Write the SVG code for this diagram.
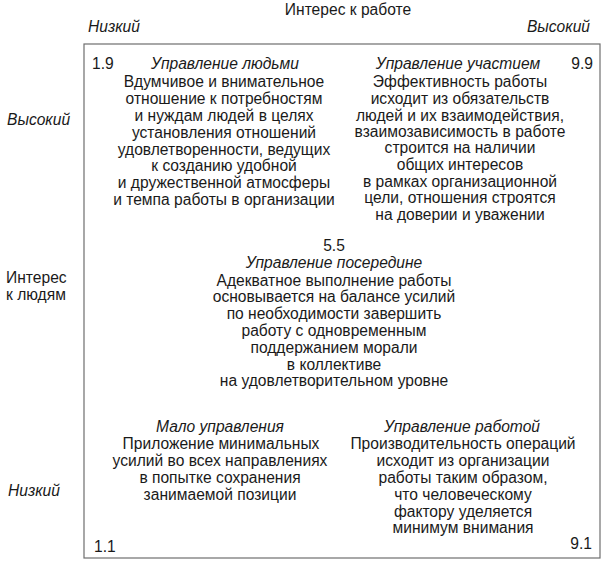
<svg xmlns="http://www.w3.org/2000/svg" width="602" height="564" viewBox="0 0 602 564">
<style>
text{font-family:"Liberation Sans",Arial,sans-serif;font-size:15.6px;fill:#1a1a1a}
.i{font-style:italic}
.c{text-anchor:middle}
.e{text-anchor:end}
.frame{fill:#fff;stroke:#6e6e6e;stroke-width:1.2}
</style>
<rect width="602" height="564" fill="#fff"/>
<g id="axes">
<text class="c" x="348" y="15">Интерес к работе</text>
<text class="i" x="88" y="32">Низкий</text>
<text class="i e" x="590" y="32">Высокий</text>
<text class="i" x="7" y="125">Высокий</text>
<text x="6" y="283">Интерес</text>
<text x="6" y="300">к людям</text>
<text class="i" x="8" y="496">Низкий</text>
</g>
<g id="grid">
<rect class="frame" x="84" y="44" width="516" height="514"/>
</g>
<g id="connectors"></g>
<g id="q19">
<text x="92" y="69">1.9</text>
<g class="c">
<text class="i" x="225" y="69">Управление людьми</text>
<text x="224" y="87">Вдумчивое и внимательное</text>
<text x="224" y="104">отношение к потребностям</text>
<text x="224" y="121">и нуждам людей в целях</text>
<text x="224" y="138">установления отношений</text>
<text x="224" y="155">удовлетворенности, ведущих</text>
<text x="224" y="171">к созданию удобной</text>
<text x="224" y="188">и дружественной атмосферы</text>
<text x="224" y="205">и темпа работы в организации</text>
</g>
</g>
<g id="q99">
<text class="e" x="593" y="69">9.9</text>
<g class="c">
<text class="i" x="458" y="69">Управление участием</text>
<text x="460" y="87">Эффективность работы</text>
<text x="460" y="104">исходит из обязательств</text>
<text x="460" y="121">людей и их взаимодействия,</text>
<text x="460" y="137">взаимозависимость в работе</text>
<text x="460" y="153">строится на наличии</text>
<text x="460" y="170">общих интересов</text>
<text x="460" y="187">в рамках организационной</text>
<text x="460" y="203">цели, отношения строятся</text>
<text x="460" y="220">на доверии и уважении</text>
</g>
</g>
<g id="q55" class="c">
<text x="334" y="251">5.5</text>
<text class="i" x="334" y="268">Управление посередине</text>
<text x="334" y="286">Адекватное выполнение работы</text>
<text x="334" y="302">основывается на балансе усилий</text>
<text x="334" y="319">по необходимости завершить</text>
<text x="334" y="336">работу с одновременным</text>
<text x="334" y="353">поддержанием морали</text>
<text x="334" y="370">в коллективе</text>
<text x="334" y="386">на удовлетворительном уровне</text>
</g>
<g id="q11">
<g class="c">
<text class="i" x="220" y="432">Мало управления</text>
<text x="221" y="449">Приложение минимальных</text>
<text x="220" y="466">усилий во всех направлениях</text>
<text x="220" y="483">в попытке сохранения</text>
<text x="220" y="500">занимаемой позиции</text>
</g>
<text x="94" y="552">1.1</text>
</g>
<g id="q91">
<g class="c">
<text class="i" x="462" y="432">Управление работой</text>
<text x="463" y="449">Производительность операций</text>
<text x="463" y="466">исходит из организации</text>
<text x="463" y="483">работы таким образом,</text>
<text x="463" y="500">что человеческому</text>
<text x="463" y="517">фактору уделяется</text>
<text x="463" y="533">минимум внимания</text>
</g>
<text class="e" x="592" y="549">9.1</text>
</g>
</svg>
